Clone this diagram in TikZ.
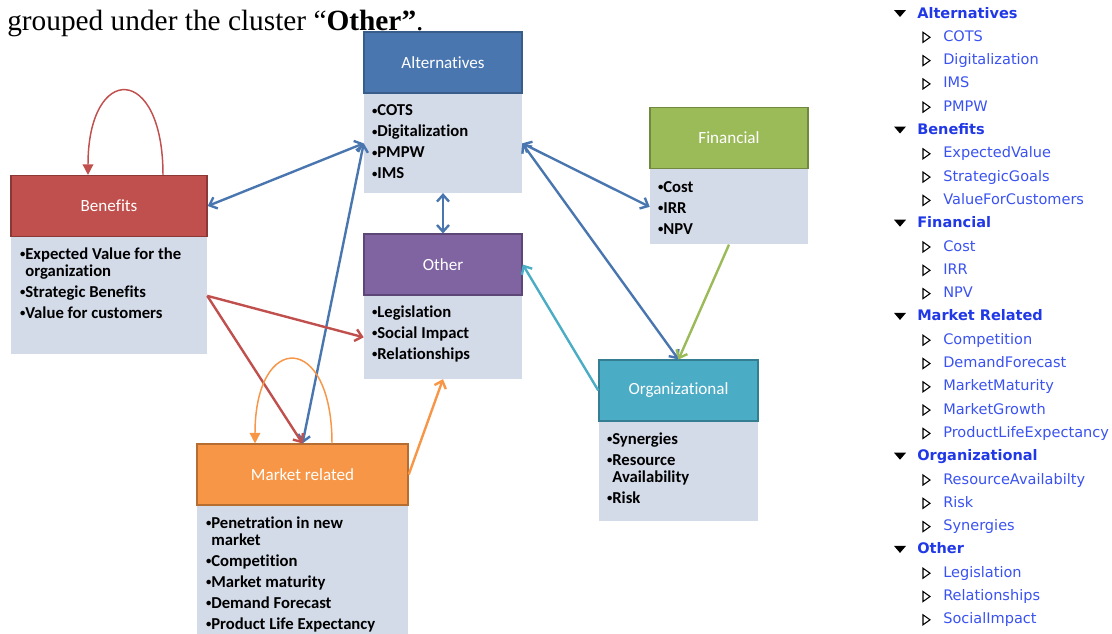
\documentclass[tikz,border=0pt]{standalone}
\usepackage{fontspec}
\usepackage{xcolor}
\usepackage{tikz}
\usetikzlibrary{positioning, calc, arrows.meta}
\newfontfamily\calib[Ligatures=NoCommon]{Carlito}
\newfontfamily\verd{DejaVu Sans}
\newfontfamily\capfont{Liberation Serif}
\newcommand{\bul}{\raisebox{0.2ex}{\fontsize{8}{8}\selectfont•}}
\definecolor{bodyfill}{HTML}{D3DAE8}
\definecolor{altblue}{HTML}{4A76B0}\definecolor{altline}{HTML}{385D8A}
\definecolor{benred}{HTML}{C0504D}\definecolor{benline}{HTML}{8C3836}
\definecolor{fingreen}{HTML}{9BBB59}\definecolor{finline}{HTML}{71893F}
\definecolor{othpurple}{HTML}{8064A2}\definecolor{othline}{HTML}{5C4776}
\definecolor{orgteal}{HTML}{4BACC6}\definecolor{orgline}{HTML}{357D91}
\definecolor{mktorange}{HTML}{F79646}\definecolor{mktline}{HTML}{B66D31}
\definecolor{treeblue}{HTML}{2038E6}\definecolor{leafblue}{HTML}{3A52F0}
\tikzset{
  clhead/.style 2 args={fill=#1, draw=#2, line width=1.1pt, text=white, font=\calib\fontsize{12.8}{14}\selectfont, minimum height=45.5pt},
  clbody/.style={fill=bodyfill, minimum height=#1, inner sep=0pt},
  cllist/.style={anchor=north west, inner sep=0pt, align=left, font=\calib\bfseries\fontsize{12.5}{12.75}\selectfont},
  link/.style={line width=1.8pt},
  selfloop/.style={line width=1.1pt, -{Triangle[length=8pt,width=8pt]}},
  treehead/.style={anchor=west, inner sep=0pt, text height=8pt, text depth=2pt, text=treeblue, font=\verd\bfseries\fontsize{10.9}{12}\selectfont},
  treeleaf/.style={anchor=west, inner sep=0pt, text height=8pt, text depth=2pt, text=leafblue, font=\verd\fontsize{10.9}{12}\selectfont}
}
\begin{document}
\begin{tikzpicture}[x=0.75pt, y=-0.75pt, node distance=0pt, >={Straight Barb[length=5pt,width=9pt]}]
    \useasboundingbox (0,0) rectangle (1112,633);
    % Caption line
    \node[anchor=base west, inner sep=0pt, font=\capfont\fontsize{22}{24}\selectfont] (caption) at (7,30) {grouped under the cluster “\textbf{Other”}.};
    % Cluster heads
    \node[clhead={altblue}{altline}, minimum width=118.5pt] (altHead) at (443,62.5) {Alternatives};
    \node[clhead={benred}{benline}, minimum width=147pt] (benHead) at (109,206) {Benefits};
    \node[clhead={fingreen}{finline}, minimum width=118.5pt] (finHead) at (729,138) {Financial};
    \node[clhead={othpurple}{othline}, minimum width=118.5pt] (othHead) at (443,264.5) {Other};
    \node[clhead={orgteal}{orgline}, minimum width=119.25pt] (orgHead) at (678.5,390.5) {Organizational};
    \node[clhead={mktorange}{mktline}, minimum width=158.25pt] (mktHead) at (302.5,474.5) {Market related};
    % Cluster bodies
    \node[clbody=74.25pt, minimum width=118.5pt, below=of altHead] (altBody) {};
    \node[clbody=87.75pt, minimum width=147pt, below=of benHead] (benBody) {};
    \node[clbody=56.25pt, minimum width=118.5pt, below=of finHead] (finBody) {};
    \node[clbody=62.25pt, minimum width=118.5pt, below=of othHead] (othBody) {};
    \node[clbody=74.25pt, minimum width=119.25pt, below=of orgHead] (orgBody) {};
    \node[clbody=101.25pt, minimum width=158.25pt, below=of mktHead] (mktBody) {};
    % Item lists
    \node[cllist] (altList) at ($(altBody.north west)+(8,11)$) {\bul COTS\\[3pt]\bul Digitalization\\[3pt]\bul PMPW\\[3pt]\bul IMS};
    \node[cllist] (benList) at ($(benBody.north west)+(9,10)$) {\bul Expected Value for the\\\phantom{\bul}organization\\[3pt]\bul Strategic Benefits\\[3pt]\bul Value for customers};
    \node[cllist] (finList) at ($(finBody.north west)+(8,12)$) {\bul Cost\\[3pt]\bul IRR\\[3pt]\bul NPV};
    \node[cllist] (othList) at ($(othBody.north west)+(8,10)$) {\bul Legislation\\[3pt]\bul Social Impact\\[3pt]\bul Relationships};
    \node[cllist] (orgList) at ($(orgBody.north west)+(8,11)$) {\bul Synergies\\[3pt]\bul Resource\\\phantom{\bul}Availability\\[3pt]\bul Risk};
    \node[cllist] (mktList) at ($(mktBody.north west)+(9,11)$) {\bul Penetration in new\\\phantom{\bul}market\\[3pt]\bul Competition\\[3pt]\bul Market maturity\\[3pt]\bul Demand Forecast\\[3pt]\bul Product Life Expectancy};
    % Links
    \draw[link, altblue, <->] (benHead.east) -- (altBody.west);
    \draw[link, altblue, <->] (mktHead.north) -- (altBody.west);
    \draw[link, altblue, <->] (altBody.south) -- (othHead.north);
    \draw[link, altblue, <->] (altBody.east) -- (finBody.west);
    \draw[link, altblue, <->] (altBody.east) -- (orgHead.north);
    \draw[link, fingreen, ->] (finBody.south) -- (orgHead.north);
    \draw[link, orgteal, ->] (orgHead.west) -- (othHead.east);
    \draw[link, benred, ->] (benBody.east) -- (othBody.west);
    \draw[link, benred, ->] (benBody.east) -- (mktHead.north);
    \draw[link, mktorange, ->] (mktHead.east) -- (othBody.south);
    % Self loops
    \draw[selfloop, benred] ($(benHead.north)+(54,0)$) .. controls +(0,-112) and +(0,-112) .. ($(benHead.north)+(-21,0)$);
    \draw[selfloop, mktorange] ($(mktHead.north)+(29.5,0)$) .. controls +(0,-112) and +(0,-112) .. ($(mktHead.north)+(-47.5,0)$);
    % Tree of clusters
    \foreach \r/\t in {0/Alternatives,5/Benefits,9/Financial,13/Market Related,19/Organizational,23/Other} {
      \node[treehead] (tree\r) at (917,{14+23.3*\r}) {\t};
      \fill ($(tree\r.west)+(-23,-4)$) -- ++(12,0) -- ++(-6,7) -- cycle;
    }
    \foreach \r/\t in {1/COTS,2/Digitalization,3/IMS,4/PMPW,6/ExpectedValue,7/StrategicGoals,8/ValueForCustomers,10/Cost,11/IRR,12/NPV,14/Competition,15/DemandForecast,16/MarketMaturity,17/MarketGrowth,18/ProductLifeExpectancy,20/ResourceAvailabilty,21/Risk,22/Synergies,24/Legislation,25/Relationships,26/SocialImpact} {
      \node[treeleaf] (tree\r) at (943,{14+23.3*\r}) {\t};
      \draw[fill=white, line width=0.8pt] ($(tree\r.west)+(-20,-5)$) -- ++(7,5) -- ++(-7,5) -- cycle;
    }
  \end{tikzpicture}
\end{document}
